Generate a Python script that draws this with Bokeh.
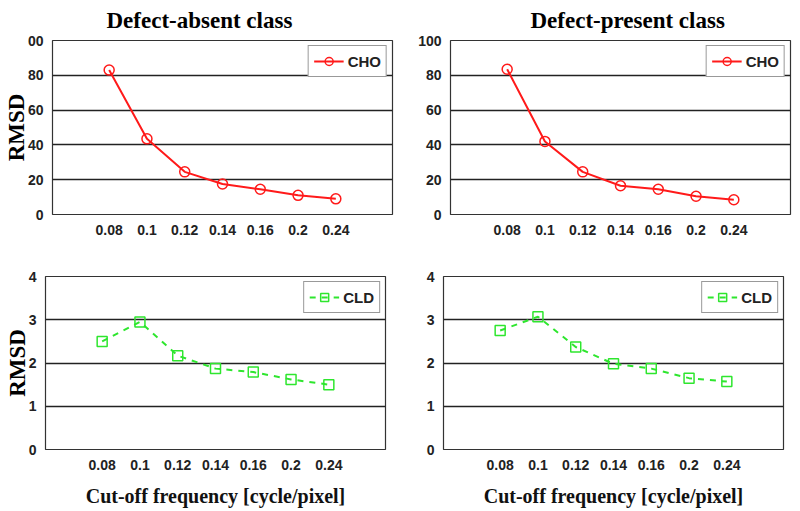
from bokeh.plotting import figure
from bokeh.models import FactorRange, Range1d, FixedTicker
from bokeh.layouts import column, row
from bokeh.embed import file_html
from bokeh.resources import INLINE

freqs = ["0.08", "0.1", "0.12", "0.14", "0.16", "0.2", "0.24"]
cho_absent = [83.0, 43.5, 24.5, 17.5, 14.5, 11.0, 9.0]
cho_present = [83.5, 42.0, 24.5, 16.5, 14.5, 10.5, 8.5]
cld_absent = [2.50, 2.95, 2.17, 1.87, 1.79, 1.62, 1.50]
cld_present = [2.75, 3.07, 2.37, 1.98, 1.87, 1.65, 1.57]
top_ticks = [0, 20, 40, 60, 80, 100]
bot_ticks = [0, 1, 2, 3, 4]
titles = ["Defect-absent class", "Defect-present class"]
ylabel = "RMSD"
xlabel = "Cut-off frequency [cycle/pixel]"

RED = "#ff1a1a"
GREEN = "#2ee62e"
SERIF = "Liberation Serif"
SANS = "Liberation Sans"


def make(fw, fh, bl, br, bt, bb, ymax, ticks, vals, color, marker, dash, name,
         title=None, title_offset=0, left_label=False, bottom_label=False, overrides=None):
    p = figure(frame_width=fw, frame_height=fh, output_backend="svg", toolbar_location=None,
               x_range=FactorRange(factors=freqs, range_padding=1, range_padding_units="absolute"),
               y_range=Range1d(0, ymax),
               min_border_left=bl, min_border_right=br, min_border_top=bt, min_border_bottom=bb)
    if title:
        p.title.text = title
        p.title.align = "left"
        p.title.vertical_align = "top"
        p.title.offset = title_offset
        p.title.standoff = 12
        p.title.text_font = SERIF
        p.title.text_font_size = "23px"
        p.title.text_font_style = "bold"
        p.title.text_color = "black"
    p.outline_line_color = "#333333"
    p.outline_line_width = 1.2
    p.xgrid.grid_line_color = None
    p.ygrid.grid_line_color = "#222222"
    p.ygrid.grid_line_width = 1.3
    p.ygrid.grid_line_alpha = 1.0
    p.yaxis.ticker = FixedTicker(ticks=ticks)
    if overrides:
        p.yaxis.major_label_overrides = overrides
    for ax in (p.xaxis[0], p.yaxis[0]):
        ax.axis_line_color = None
        ax.major_tick_line_color = None
        ax.minor_tick_line_color = None
        ax.major_label_text_font = SANS
        ax.major_label_text_font_style = "bold"
        ax.major_label_text_font_size = "14px"
        ax.major_label_text_color = "#222222"
        ax.major_label_standoff = 4
    p.yaxis.major_label_standoff = 3
    if left_label:
        p.yaxis.axis_label = ylabel
        p.yaxis.axis_label_text_font = SERIF
        p.yaxis.axis_label_text_font_size = "23px"
        p.yaxis.axis_label_text_font_style = "bold"
        p.yaxis.axis_label_text_color = "black"
        p.yaxis.axis_label_standoff = -4
    if bottom_label:
        p.xaxis.axis_label = xlabel
        p.xaxis.axis_label_text_font = SERIF
        p.xaxis.axis_label_text_font_size = "20px"
        p.xaxis.axis_label_text_font_style = "bold"
        p.xaxis.axis_label_text_color = "#111111"
        p.xaxis.axis_label_standoff = 12
    p.line(freqs, vals, color=color, line_width=2, line_dash=dash, legend_label=name)
    p.scatter(freqs, vals, marker=marker, size=10, fill_color=None, line_color=color,
              line_width=1.5, legend_label=name)
    p.legend.location = "top_right"
    p.legend.margin = 5
    p.legend.border_line_color = "#333333"
    p.legend.border_line_width = 1.2
    p.legend.label_text_font = SANS
    p.legend.label_text_font_style = "bold"
    p.legend.label_text_font_size = "15px"
    p.legend.label_text_color = "#222222"
    p.legend.glyph_width = 30
    p.legend.padding = 5
    p.legend.spacing = 0
    p.legend.label_standoff = 4
    p.legend.background_fill_alpha = 1.0
    return p


p1 = make(340, 174, 45, 12, 40, 28, 100, top_ticks, cho_absent, RED, "circle", "solid", "CHO",
          title=titles[0], title_offset=54, left_label=True, overrides={100: "00"})
p2 = make(340, 174, 46, 2, 40, 28, 100, top_ticks, cho_present, RED, "circle", "solid", "CHO",
          title=titles[1], title_offset=80)
p3 = make(340, 173, 45, 12, 34, 50, 4, bot_ticks, cld_absent, GREEN, "square", "dashed", "CLD",
          left_label=True, bottom_label=True)
p4 = make(340, 173, 46, 2, 34, 50, 4, bot_ticks, cld_present, GREEN, "square", "dashed", "CLD",
          bottom_label=True)

layout = column(row(p1, p2), row(p3, p4))
open("out.html", "w").write(file_html(layout, INLINE))
